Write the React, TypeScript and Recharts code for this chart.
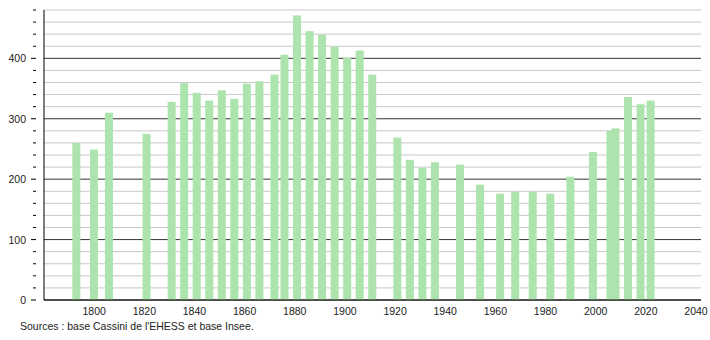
import React from "react";
import { BarChart, Bar, XAxis, YAxis, CartesianGrid } from "recharts";

// années de recensement et population
const years = [
  1793, 1800, 1806, 1821, 1831, 1836, 1841, 1846, 1851, 1856, 1861, 1866, 1872,
  1876, 1881, 1886, 1891, 1896, 1901, 1906, 1911, 1921, 1926, 1931, 1936, 1946,
  1954, 1962, 1968, 1975, 1982, 1990, 1999, 2006, 2008, 2013, 2018, 2022,
];
const population = [
  260, 249, 310, 275, 328, 359, 343, 330, 347, 333, 358, 362, 373,
  406, 471, 445, 439, 419, 401, 413, 373, 269, 232, 219, 228, 224,
  191, 176, 179, 179, 176, 204, 245, 280, 284, 336, 324, 330,
];

const xTicks = [1800, 1820, 1840, 1860, 1880, 1900, 1920, 1940, 1960, 1980, 2000, 2020, 2040];
const yTicks = [
  0, 20, 40, 60, 80, 100, 120, 140, 160, 180, 200, 220, 240, 260, 280, 300,
  320, 340, 360, 380, 400, 420, 440, 460, 480,
];

const data = years.map((y, i) => ({ year: y, pop: population[i] }));

const FONT = "'Liberation Sans', Arial, sans-serif";
const BAR_W = 8;

const YTick = (props: any) => {
  const { x, y, payload } = props;
  const major = payload.value % 100 === 0;
  return (
    <g>
      <line x1={x + (major ? -5 : -3)} x2={x} y1={y} y2={y} stroke="#000" />
      {major && (
        <text x={x - 10} y={y} dy={4} textAnchor="end" fontSize={10.5} fill="#222" fontFamily={FONT}>
          {payload.value}
        </text>
      )}
    </g>
  );
};

const GridLine = (props: any) => {
  const { x1, x2, y1, y2, index } = props;
  const major = index % 5 === 0;
  return (
    <line
      key={"g" + index}
      x1={x1}
      x2={x2}
      y1={y1}
      y2={y2}
      stroke={major ? "#333" : "#c8c8c8"}
      strokeWidth={1}
    />
  );
};

// la largeur de bande est réduite par l'écart 2006-2008, on recentre des barres plus larges
const WideBar = (props: any) => {
  const { x, y, width, height, fill } = props;
  const cx = x + width / 2;
  return <rect x={cx - BAR_W / 2} y={y} width={BAR_W} height={height} fill={fill} />;
};

export default function App() {
  return (
    <div style={{ position: "absolute", left: 0, top: 0, width: 710, height: 340, background: "#fff" }}>
      <BarChart
        width={710}
        height={320}
        data={data}
        margin={{ top: 10, right: 9, bottom: 0, left: 0 }}
      >
        <CartesianGrid vertical={false} horizontal={GridLine} />
        <XAxis
          type="number"
          dataKey="year"
          domain={[1780, 2042]}
          ticks={xTicks}
          tickLine={false}
          axisLine={{ stroke: "#000" }}
          height={20}
          tick={{ fontSize: 10.5, fill: "#222", fontFamily: FONT }}
          tickMargin={2}
        />
        <YAxis
          type="number"
          domain={[0, 480]}
          ticks={yTicks}
          interval={0}
          width={44}
          tickLine={false}
          axisLine={{ stroke: "#000" }}
          tick={<YTick />}
        />
        <Bar dataKey="pop" fill="#ade4ad" barSize={8} shape={<WideBar />} isAnimationActive={false} />
      </BarChart>
      <div
        style={{
          position: "absolute",
          left: 20,
          top: 320,
          fontSize: 10.5,
          fontFamily: FONT,
          color: "#222",
        }}
      >
        Sources : base Cassini de l'EHESS et base Insee.
      </div>
    </div>
  );
}
